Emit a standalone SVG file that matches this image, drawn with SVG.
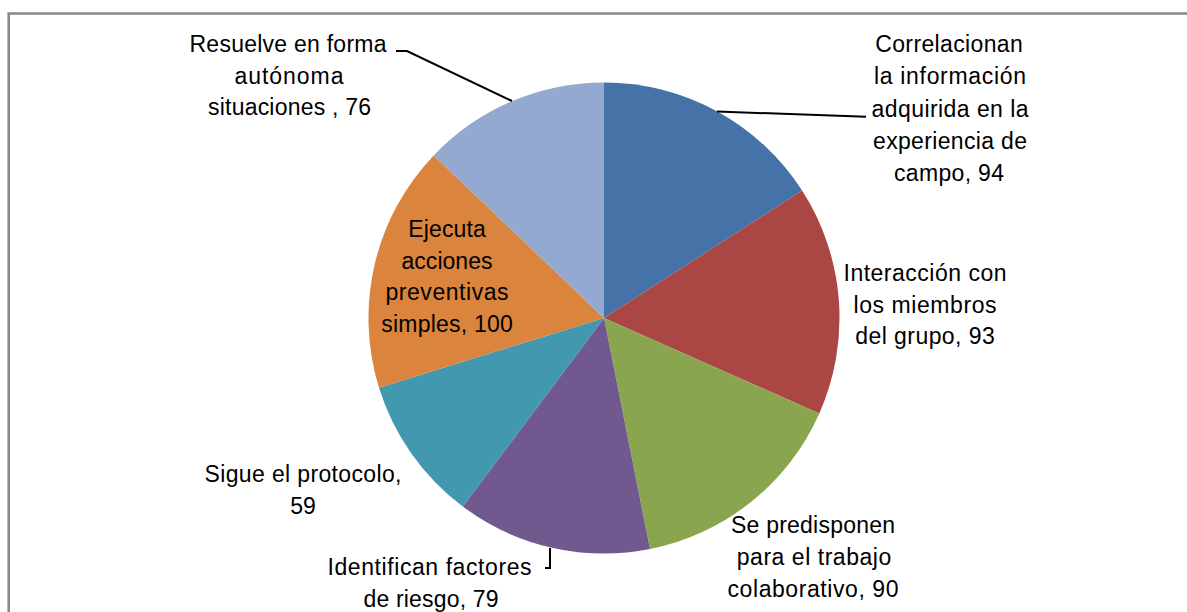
<svg xmlns="http://www.w3.org/2000/svg" width="1187" height="612" viewBox="0 0 1187 612">
<style>
.lbl{font-family:"Liberation Sans",Arial,sans-serif;font-size:23px;fill:#000;text-anchor:middle}
.lead{fill:none;stroke:#000;stroke-width:2}
</style>
<rect x="0" y="0" width="1187" height="612" fill="#fff"/>
<rect id="frame" x="8.7" y="13.5" width="1200" height="620" fill="#fff" stroke="#8a8a8a" stroke-width="2.6"/>
<g id="pie">
<g id="s1"><path d="M604,318 L604,82.5 A235.5,235.5 0 0 1 802.1,190.6 Z" fill="#4572A7"/></g>
<g id="s2"><path d="M604,318 L802.1,190.6 A235.5,235.5 0 0 1 819.3,413.4 Z" fill="#AA4643"/></g>
<g id="s3"><path d="M604,318 L819.3,413.4 A235.5,235.5 0 0 1 650.0,549.0 Z" fill="#89A54E"/></g>
<g id="s4"><path d="M604,318 L650.0,549.0 A235.5,235.5 0 0 1 462.8,506.5 Z" fill="#71588F"/></g>
<g id="s5"><path d="M604,318 L462.8,506.5 A235.5,235.5 0 0 1 379.0,387.7 Z" fill="#4198AF"/></g>
<g id="s6"><path d="M604,318 L379.0,387.7 A235.5,235.5 0 0 1 433.7,155.4 Z" fill="#DB843D"/></g>
<g id="s7"><path d="M604,318 L433.7,155.4 A235.5,235.5 0 0 1 604,82.5 Z" fill="#93A9CF"/></g>
</g>
<g id="connectors">
<polyline class="lead" points="396,51 407,51 512,101"/>
<polyline class="lead" points="717,111.5 866,116.7"/>
<polyline class="lead" points="550,548 550,568 545,568"/>
</g>
<g id="label-correlacionan">
<text x="949" y="52" class="lbl" textLength="147.5">Correlacionan</text>
<text x="950" y="84" class="lbl" textLength="152">la información</text>
<text x="950" y="116.5" class="lbl" textLength="157">adquirida en la</text>
<text x="950" y="148.5" class="lbl" textLength="154">experiencia de</text>
<text x="949" y="181" class="lbl" textLength="110">campo, 94</text>
</g>
<g id="label-interaccion">
<text x="925" y="281" class="lbl" textLength="163">Interacción con</text>
<text x="925" y="313" class="lbl" textLength="143">los miembros</text>
<text x="925" y="344" class="lbl" textLength="139.5">del grupo, 93</text>
</g>
<g id="label-predisponen">
<text x="813" y="533" class="lbl" textLength="164">Se predisponen</text>
<text x="814" y="565" class="lbl" textLength="154.5">para el trabajo</text>
<text x="813" y="597" class="lbl" textLength="171">colaborativo, 90</text>
</g>
<g id="label-identifican">
<text x="429.5" y="575" class="lbl" textLength="204">Identifican factores</text>
<text x="431" y="607" class="lbl" textLength="135">de riesgo, 79</text>
</g>
<g id="label-sigue">
<text x="303" y="482" class="lbl" textLength="197">Sigue el protocolo,</text>
<text x="303" y="514" class="lbl">59</text>
</g>
<g id="label-ejecuta">
<text x="447" y="237" class="lbl" textLength="77.7">Ejecuta</text>
<text x="447" y="268.5" class="lbl" textLength="91">acciones</text>
<text x="447" y="300" class="lbl" textLength="123">preventivas</text>
<text x="447" y="332" class="lbl" textLength="131.5">simples, 100</text>
</g>
<g id="label-resuelve">
<text x="288" y="52" class="lbl" textLength="197">Resuelve en forma</text>
<text x="289" y="84" class="lbl" textLength="109">autónoma</text>
<text x="289.5" y="115" class="lbl" textLength="163">situaciones , 76</text>
</g>
</svg>
